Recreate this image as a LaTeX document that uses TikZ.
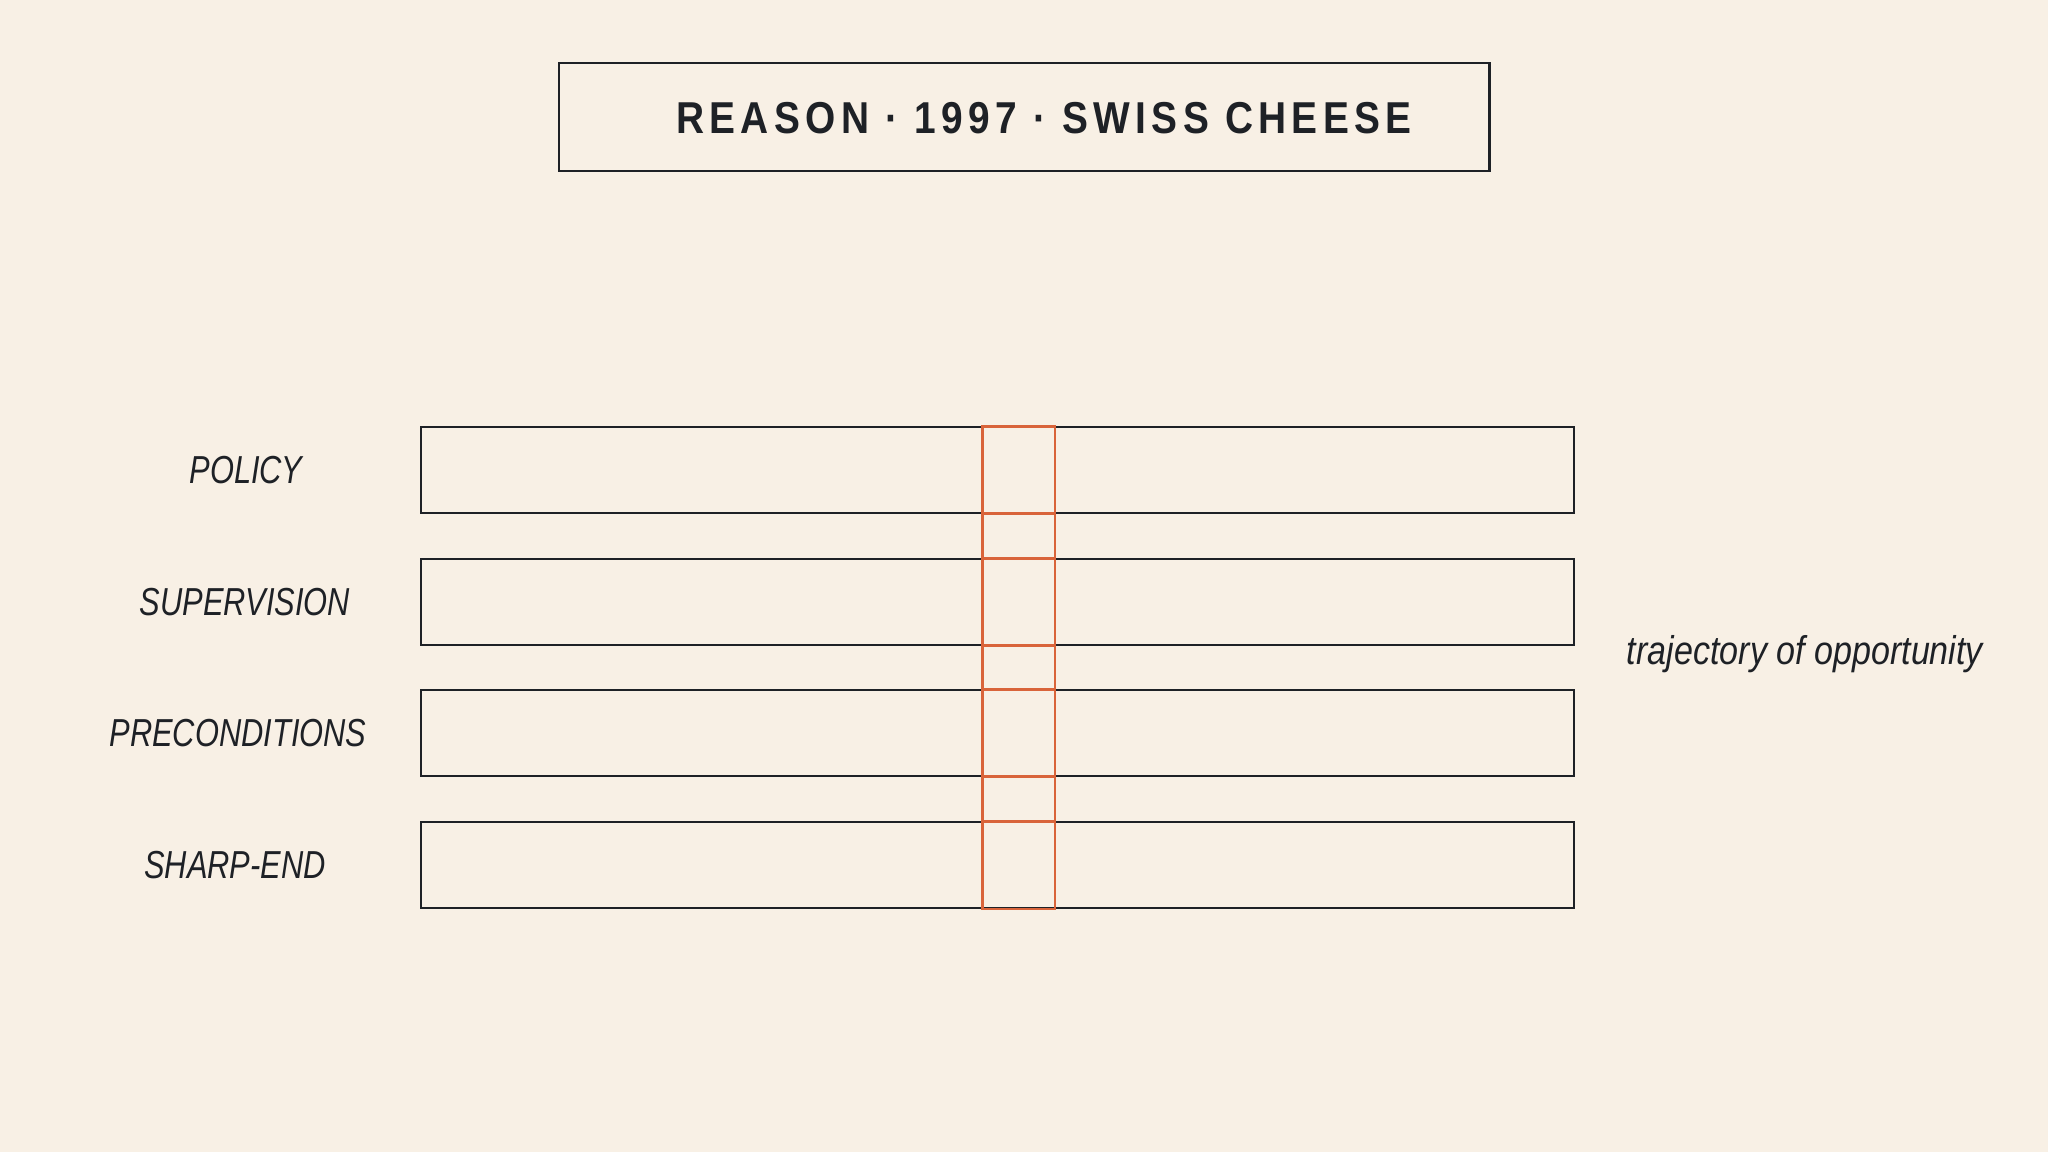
\documentclass[tikz,border=0pt]{standalone}
\usepackage{fontspec}
\setmainfont{Liberation Sans}
\newfontfamily\titlefont{Liberation Sans}[FakeStretch=0.87,LetterSpace=12]
\newfontfamily\labelfont{Liberation Sans}[FakeStretch=0.79]
\newfontfamily\trajfont{Liberation Sans}[FakeStretch=0.85]
\definecolor{bgc}{HTML}{F8F0E5}
\definecolor{ink}{HTML}{1E2126}
\definecolor{holec}{HTML}{D9643A}
\tikzset{
  titlebox/.style={draw=ink, line width=0.7pt, minimum width=9.3cm, minimum height=1.08cm, inner sep=0pt},
  titletext/.style={text=ink, inner sep=0pt, font=\titlefont\bfseries\fontsize{12.7}{15}\selectfont},
  layer/.style={draw=ink, line width=0.6pt, minimum width=11.53cm, minimum height=0.86cm, inner sep=0pt},
  hole/.style={minimum width=0.71cm, minimum height=0.86cm, inner sep=0pt},
  holeline/.style={draw=holec, line width=0.7pt},
  lab/.style={text=ink, inner sep=0pt, font=\labelfont\itshape\fontsize{11.1}{13}\selectfont},
  traj/.style={text=ink, inner sep=0pt, font=\trajfont\itshape\fontsize{11.4}{14}\selectfont}
}
\begin{document}
\begin{tikzpicture}[x=0.01cm,y=-0.01cm]
\fill[bgc] (0,0) rectangle (2048,1152);
\useasboundingbox (0,0) rectangle (2048,1152);
\node[titlebox] (tb) at (1024,117) {};
\node[titletext] (tt) at (1044,118) {REASON · 1997 · SWISS CHEESE};
\foreach \n/\y in {1/470,2/602,3/733,4/865}{
  \node[layer] (L\n) at (997.5,\y) {};
}
\foreach \n/\y in {1/470,2/602,3/733,4/865}{
  \node[hole] (H\n) at (1018.5,\y) {};
  \draw[holeline] (H\n.north west) -- (H\n.north east)
                  (H\n.south west) -- (H\n.south east);
}
\draw[holeline] (H1.north west) rectangle (H4.south east);
\node[lab] (p1) at (246,470) {POLICY};
\node[lab] (p2) at (245,602) {SUPERVISION};
\node[lab] (p3) at (238,733) {PRECONDITIONS};
\node[lab] (p4) at (235,865) {SHARP-END};
\node[traj] (tr) at (1805,654) {trajectory of opportunity};
\end{tikzpicture}
\end{document}
